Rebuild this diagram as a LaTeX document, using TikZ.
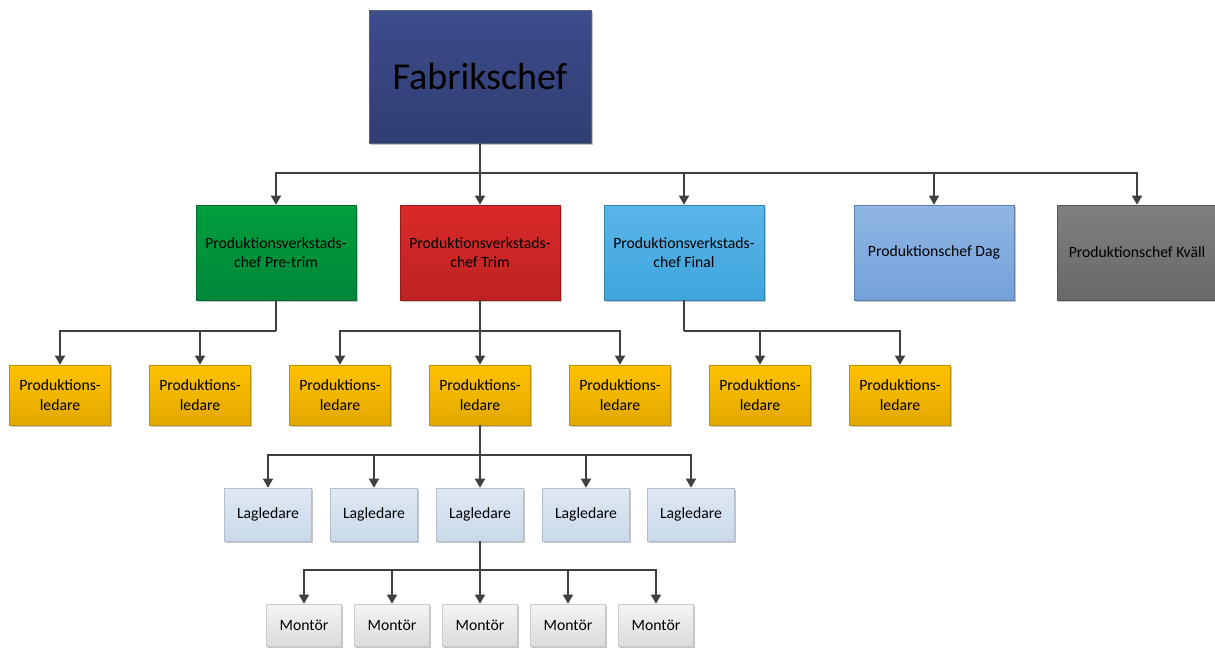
\documentclass[tikz,border=0pt]{standalone}
\usepackage{fontspec}
\setmainfont{Carlito}
\usetikzlibrary{arrows.meta,shadows}
\definecolor{navyT}{HTML}{3D4C8C}
\definecolor{navyB}{HTML}{2F3E72}
\definecolor{greenT}{HTML}{009E3C}
\definecolor{greenB}{HTML}{00873A}
\definecolor{redT}{HTML}{DA2A2A}
\definecolor{redB}{HTML}{BF2222}
\definecolor{blueT}{HTML}{5AB5E8}
\definecolor{blueB}{HTML}{3EA5DC}
\definecolor{dagT}{HTML}{90B6E3}
\definecolor{dagB}{HTML}{74A1DA}
\definecolor{kvT}{HTML}{808080}
\definecolor{kvB}{HTML}{686868}
\definecolor{yelT}{HTML}{FFC200}
\definecolor{yelB}{HTML}{E2A800}
\definecolor{lagT}{HTML}{DFE8F2}
\definecolor{lagB}{HTML}{C9D9EA}
\definecolor{monT}{HTML}{F4F4F4}
\definecolor{monB}{HTML}{DCDCDC}
\definecolor{connc}{HTML}{404040}
\begin{document}
\begin{tikzpicture}[x=1pt,y=-1pt,
  box/.style={rectangle, inner sep=2pt, align=center, text=black,
    line width=0.6pt,
    drop shadow={shadow xshift=1.5pt, shadow yshift=-1.5pt, fill=black, opacity=0.22}},
  bigbox/.style={box, minimum width=222pt, minimum height=133pt,
    top color=navyT, bottom color=navyB, draw=navyB!50!gray,
    font=\fontsize{38}{44}\selectfont},
  chefbox/.style={box, minimum width=160pt, minimum height=95pt,
    font=\fontsize{15.7}{19.5}\selectfont},
  ledbox/.style={box, minimum width=101pt, minimum height=60pt,
    top color=yelT, bottom color=yelB, draw=yelB!85!black,
    font=\fontsize{15.7}{19.5}\selectfont},
  lagbox/.style={box, minimum width=87pt, minimum height=53pt,
    top color=lagT, bottom color=lagB, draw=lagB!70!gray,
    font=\fontsize{15.7}{19.5}\selectfont},
  monbox/.style={box, minimum width=75pt, minimum height=42pt,
    top color=monT, bottom color=monB, draw=monB!80!gray,
    font=\fontsize{15.7}{19.5}\selectfont},
  conn/.style={draw=connc, line width=1.6pt},
  arr/.style={conn, -{Triangle[width=10pt,length=9pt]}}
]
\useasboundingbox (0,0) rectangle (1215,648);

% level 1
\node[bigbox] (F) at (480,76.5) {Fabrikschef};

% level 2
\node[chefbox, top color=greenT, bottom color=greenB, draw=greenB!80!black] (PT) at (276,252.5) {Produktionsverkstads-\\chef Pre-trim};
\node[chefbox, top color=redT, bottom color=redB, draw=redB!80!black] (TR) at (480,252.5) {Produktionsverkstads-\\chef Trim};
\node[chefbox, top color=blueT, bottom color=blueB, draw=blueB!80!black] (FI) at (684,252.5) {Produktionsverkstads-\\chef Final};
\node[chefbox, top color=dagT, bottom color=dagB, draw=dagB!80!black] (DA) at (934,252.5) {Produktionschef Dag};
\node[chefbox, top color=kvT, bottom color=kvB, draw=kvB!80!black] (KV) at (1137,252.5) {Produktionschef Kväll};

% level 3
\node[ledbox] (L1) at (60,395) {Produktions-\\ledare};
\node[ledbox] (L2) at (200,395) {Produktions-\\ledare};
\node[ledbox] (L3) at (340,395) {Produktions-\\ledare};
\node[ledbox] (L4) at (480,395) {Produktions-\\ledare};
\node[ledbox] (L5) at (620,395) {Produktions-\\ledare};
\node[ledbox] (L6) at (760,395) {Produktions-\\ledare};
\node[ledbox] (L7) at (900,395) {Produktions-\\ledare};

% level 4
\node[lagbox] (G1) at (268,514.5) {Lagledare};
\node[lagbox] (G2) at (374,514.5) {Lagledare};
\node[lagbox] (G3) at (480,514.5) {Lagledare};
\node[lagbox] (G4) at (586,514.5) {Lagledare};
\node[lagbox] (G5) at (691,514.5) {Lagledare};

% level 5
\node[monbox] (M1) at (304,625) {Montör};
\node[monbox] (M2) at (392,625) {Montör};
\node[monbox] (M3) at (480,625) {Montör};
\node[monbox] (M4) at (568,625) {Montör};
\node[monbox] (M5) at (656,625) {Montör};

% junctions
\coordinate (jF) at (480,173);
\coordinate (jPT) at (276,331);
\coordinate (jTR) at (480,331);
\coordinate (jFI) at (684,331);
\coordinate (jL4) at (480,455);
\coordinate (jG3) at (480,570);

% connectors level 1 -> 2
\draw[conn] (F.south) -- (jF);
\foreach \c in {PT,TR,FI,DA,KV} \draw[arr] (jF) -| (\c.north);

% level 2 -> 3
\draw[conn] (PT.south) -- (jPT);
\foreach \c in {L1,L2} \draw[arr] (jPT) -| (\c.north);
\draw[conn] (TR.south) -- (jTR);
\foreach \c in {L3,L4,L5} \draw[arr] (jTR) -| (\c.north);
\draw[conn] (FI.south) -- (jFI);
\foreach \c in {L6,L7} \draw[arr] (jFI) -| (\c.north);

% level 3 -> 4
\draw[conn] (L4.south) -- (jL4);
\foreach \c in {G1,G2,G3,G4,G5} \draw[arr] (jL4) -| (\c.north);

% level 4 -> 5
\draw[conn] (G3.south) -- (jG3);
\foreach \c in {M1,M2,M3,M4,M5} \draw[arr] (jG3) -| (\c.north);
\end{tikzpicture}
\end{document}
